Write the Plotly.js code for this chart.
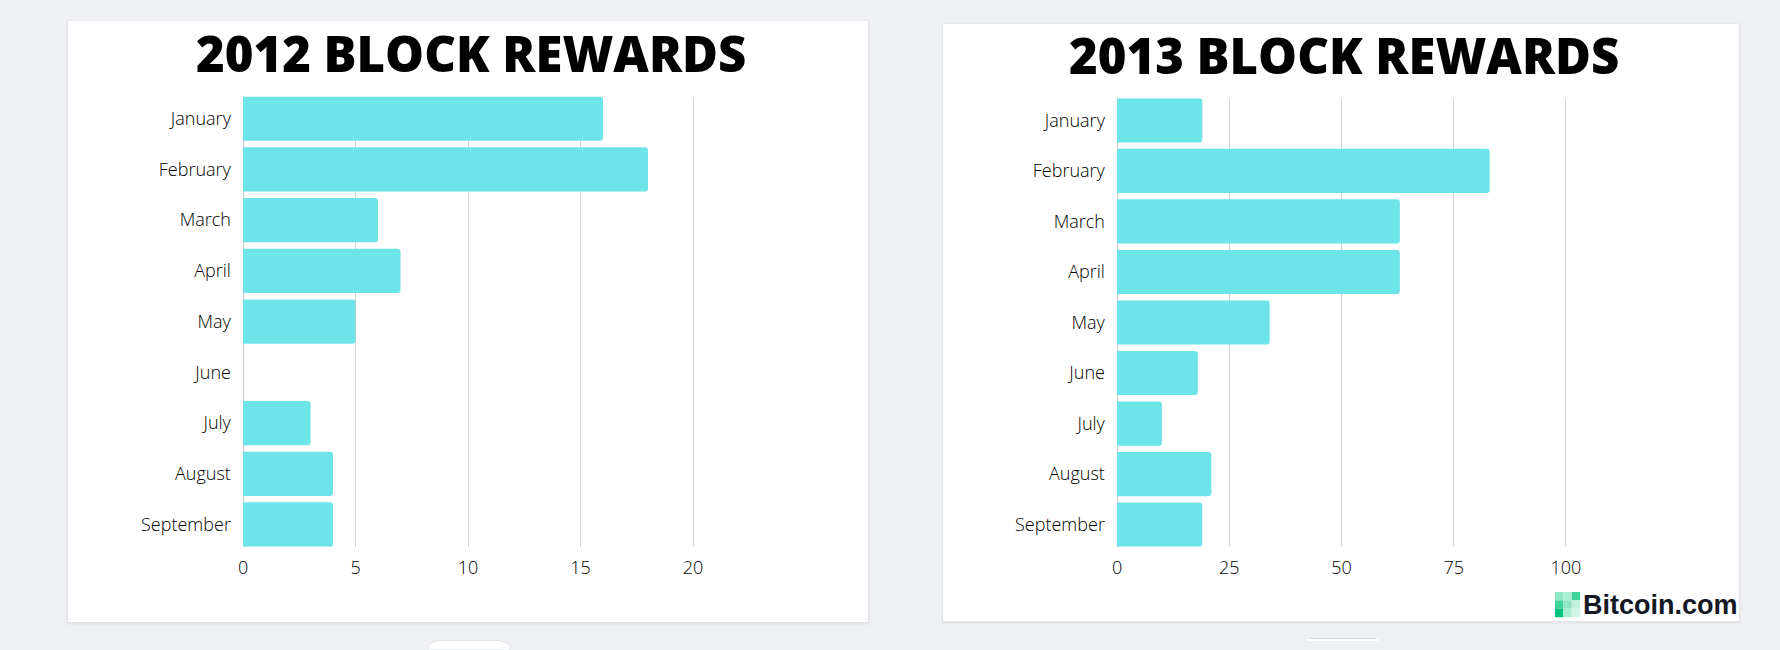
<!DOCTYPE html>
<html>
<head>
<meta charset="utf-8">
<script src="https://cdn.plot.ly/plotly-3.0.1.min.js"></script>
<style>
  html, body { margin: 0; padding: 0; background: #eef0f3; }
  #chart { width: 1780px; height: 650px; }
</style>
</head>
<body>
<div id="chart"></div>
<script>
// ---- Data ----
const months = ["January", "February", "March", "April", "May", "June", "July", "August", "September"];
const rewards2012 = [16, 18, 6, 7, 5, 0, 3, 4, 4];
const rewards2013 = [19, 83, 63, 63, 34, 18, 10, 21, 19];
const title2012 = "2012 BLOCK REWARDS";
const title2013 = "2013 BLOCK REWARDS";
const ticks2012 = [0, 5, 10, 15, 20];
const ticks2013 = [0, 25, 50, 75, 100];
const brandText = "Bitcoin.com";

// ---- Layout helpers (pixel -> paper) ----
const W = 1780, H = 650;
const px = x => x / W;
const py = y => 1 - y / H;

const barColor = "#6de4e8";
const gridColor = "#d4d4d4";
const tickFont = { family: "Open Sans, sans-serif", size: 18, color: "#000000", weight: 300 };

const traces = [
  {
    type: "bar", orientation: "h",
    y: months, x: rewards2012,
    xaxis: "x", yaxis: "y",
    marker: { color: barColor, cornerradius: 3, line: { width: 0 } },
    hoverinfo: "x+y"
  },
  {
    type: "bar", orientation: "h",
    y: months, x: rewards2013,
    xaxis: "x2", yaxis: "y2",
    marker: { color: barColor, cornerradius: 3, line: { width: 0 } },
    hoverinfo: "x+y"
  }
];

function xAxis(domain, range, tickvals, anchor) {
  return {
    domain: domain, range: range, anchor: anchor,
    tickmode: "array", tickvals: tickvals, ticktext: tickvals.map(String),
    showgrid: true, gridcolor: gridColor, gridwidth: 1,
    zeroline: true, zerolinecolor: "#c8c8c8", zerolinewidth: 1,
    showline: false, ticks: "", tickfont: tickFont,
    ticklabelstandoff: 8, fixedrange: true
  };
}
function yAxis(domain, anchor) {
  return {
    domain: domain, anchor: anchor, type: "category",
    categoryorder: "array", categoryarray: months,
    range: [8.437, -0.437],
    showgrid: false, zeroline: false, showline: false, ticks: "",
    tickfont: tickFont, ticklabelstandoff: 10, fixedrange: true
  };
}

const shapes = [];
// card shadows + cards
function card(x0, y0, x1, y1) {
  shapes.push({ type: "rect", xref: "paper", yref: "paper", layer: "below",
    x0: px(x0 - 2), x1: px(x1 + 2), y0: py(y1 + 3), y1: py(y0 - 1),
    fillcolor: "rgba(0,0,0,0.025)", line: { width: 0 } });
  shapes.push({ type: "rect", xref: "paper", yref: "paper", layer: "below",
    x0: px(x0 - 1), x1: px(x1 + 1), y0: py(y1 + 1.5), y1: py(y0),
    fillcolor: "rgba(0,0,0,0.03)", line: { width: 0 } });
  shapes.push({ type: "rect", xref: "paper", yref: "paper", layer: "below",
    x0: px(x0), x1: px(x1), y0: py(y1), y1: py(y0),
    fillcolor: "#ffffff", line: { width: 0 } });
}
card(68, 21, 868, 622);
card(943, 24, 1739, 621);

// small pills under the cards
shapes.push({ type: "path", xref: "paper", yref: "paper", layer: "below",
  path: `M ${px(428)} ${py(650)} L ${px(428)} ${py(646)} Q ${px(432)} ${py(640.5)} ${px(442)} ${py(640.5)} L ${px(496)} ${py(640.5)} Q ${px(506)} ${py(640.5)} ${px(510)} ${py(646)} L ${px(510)} ${py(650)} Z`,
  fillcolor: "#ffffff", line: { color: "#e2e4e8", width: 1 } });
shapes.push({ type: "path", xref: "paper", yref: "paper", layer: "below",
  path: `M ${px(1308)} ${py(640)} L ${px(1378)} ${py(640)}`,
  line: { color: "#ffffff", width: 2 } });
shapes.push({ type: "path", xref: "paper", yref: "paper", layer: "below",
  path: `M ${px(1310)} ${py(638.6)} L ${px(1376)} ${py(638.6)}`,
  line: { color: "#d9dbe0", width: 1 } });

// brand logo squares
const logoColors = [
  ["#8fe6c4", "#aaeed3", "#3fd39b"],
  ["#3fd49b", "#8fe6c4", "#c2f2de"],
  ["#02c47d", "#aaeed3", "#d3f6e8"]
];
const lx = 1555, ly = 592, ls = 8.4;
for (let r = 0; r < 3; r++) {
  for (let c = 0; c < 3; c++) {
    shapes.push({ type: "rect", xref: "paper", yref: "paper", layer: "above",
      x0: px(lx + c * ls), x1: px(lx + (c + 1) * ls),
      y0: py(ly + (r + 1) * ls), y1: py(ly + r * ls),
      fillcolor: logoColors[r][c], line: { width: 0 } });
  }
}

const titleFont = { family: "Open Sans, sans-serif", size: 49, color: "#000000", weight: 800 };
const annotations = [
  { text: title2012, xref: "paper", yref: "paper", x: px(470.5), y: py(53),
    xanchor: "center", yanchor: "middle", showarrow: false, font: titleFont },
  { text: title2013, xref: "paper", yref: "paper", x: px(1344), y: py(55),
    xanchor: "center", yanchor: "middle", showarrow: false, font: titleFont },
  { text: brandText, xref: "paper", yref: "paper", x: px(1581), y: py(605),
    xanchor: "left", yanchor: "middle", showarrow: false,
    font: { family: "Liberation Sans, Arial, sans-serif", size: 27, color: "#141824", weight: 700 } }
];

const layout = {
  width: W, height: H,
  margin: { l: 0, r: 0, t: 0, b: 0, pad: 0 },
  paper_bgcolor: "#eef0f3",
  plot_bgcolor: "rgba(0,0,0,0)",
  showlegend: false,
  bargap: 0.126,
  // 22.5 px per unit on the left axis, 4.49 px per unit on the right
  xaxis: xAxis([px(241.9), px(695.25)], [-0.05, 20.1], ticks2012, "y"),
  yaxis: yAxis([py(546.7), py(96.5)], "x"),
  xaxis2: xAxis([px(1115.9), px(1568.2)], [-0.25, 100.5], ticks2013, "y2"),
  yaxis2: yAxis([py(546.7), py(98.3)], "x2"),
  shapes: shapes,
  annotations: annotations
};

Plotly.newPlot("chart", traces, layout, { displayModeBar: false });
</script>
</body>
</html>
